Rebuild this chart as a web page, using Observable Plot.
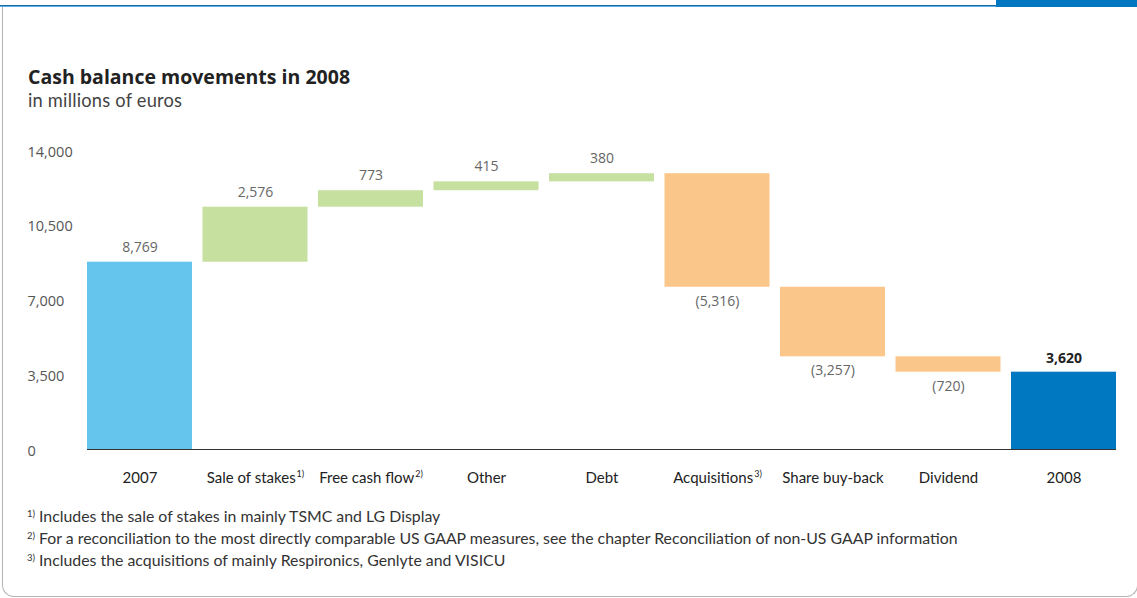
<!DOCTYPE html>
<html><head><meta charset="utf-8">
<script src="https://cdn.jsdelivr.net/npm/d3@7"></script>
<script src="https://cdn.jsdelivr.net/npm/@observablehq/plot@0.6"></script>
<style>
body{margin:0;background:#fff;}
#page{position:relative;width:1137px;height:598px;overflow:hidden;font-family:Lato,"Open Sans",sans-serif;background:#fff;}
.topline{position:absolute;left:0;top:5px;width:997px;height:1px;background:#1c6aa8;box-shadow:0 1px 0 #5aaee3;}
.topblock{position:absolute;left:996px;top:0;width:141px;height:7px;background:#0077c0;}
.frame{position:absolute;left:2px;top:7px;width:1134px;height:589px;border:1px solid #b4b4b4;border-top:none;border-radius:0 0 12px 12px;}
.title{position:absolute;left:28px;top:67px;font-family:"Open Sans",sans-serif;font-size:19.5px;line-height:20px;font-weight:700;color:#222;white-space:nowrap;}
.subtitle{position:absolute;left:28px;top:90px;font-size:18.3px;line-height:20px;font-weight:400;color:#444;white-space:nowrap;letter-spacing:0.2px;}
#chart{position:absolute;left:0;top:140px;}
.notes{position:absolute;left:27px;top:505px;font-size:15.85px;line-height:22px;color:#333;white-space:nowrap;}
.notes sup{font-size:9.5px;vertical-align:5px;margin-right:4px;line-height:0;}
</style></head><body>
<div id="page">
  <div class="topline"></div>
  <div class="topblock"></div>
  <div class="frame"></div>
  <div class="title">Cash balance movements in 2008</div>
  <div class="subtitle">in millions of euros</div>
  <div id="chart"></div>
  <div class="notes">
    <div><sup>1)</sup>Includes the sale of stakes in mainly TSMC and LG Display</div>
    <div><sup>2)</sup>For a reconciliation to the most directly comparable US GAAP measures, see the chapter Reconciliation of non-US GAAP information</div>
    <div><sup>3)</sup>Includes the acquisitions of mainly Respironics, Genlyte and VISICU</div>
  </div>
</div>
<script>
const categories = ["2007", "Sale of stakes", "Free cash flow", "Other", "Debt", "Acquisitions", "Share buy-back", "Dividend", "2008"];
const notes = ["", "1)", "2)", "", "", "3)", "", "", ""];
const values = [8769, 2576, 773, 415, 380, -5316, -3257, -720, 3620];
const kinds = ["start", "up", "up", "up", "up", "down", "down", "down", "end"];
const yTicks = [0, 3500, 7000, 10500, 14000];
const kindDomain = ["start", "up", "down", "end"];
const kindColors = ["#66c5ec", "#c6e09f", "#fbc68a", "#0078c1"];

let running = 0;
const rows = categories.map((c, i) => {
  const v = values[i], k = kinds[i];
  let y1, y2;
  if (k === "start" || k === "end") { y1 = 0; y2 = v; running = v; }
  else { y1 = running; y2 = running + v; running += v; }
  return {cat: c, v, kind: k, y1, y2, top: Math.max(y1, y2), bottom: Math.min(y1, y2),
          label: v < 0 ? "(" + d3.format(",")(-v) + ")" : d3.format(",")(v)};
});
const noteOf = new Map(categories.map((c, i) => [c, notes[i]]));

const svg = Plot.plot({
  width: 1137,
  height: 350,
  marginTop: 10,
  marginBottom: 41,
  marginLeft: 87,
  marginRight: 21,
  style: {fontFamily: "Lato, 'Open Sans', sans-serif", color: "#222", background: "transparent", overflow: "visible"},
  x: {domain: categories, paddingInner: 0.091, paddingOuter: 0, round: false, axis: null},
  y: {domain: [0, 14000], axis: null},
  color: {domain: kindDomain, range: kindColors},
  marks: [
    Plot.barY(rows, {x: "cat", y1: "y1", y2: "y2", fill: "kind"}),
    Plot.ruleY([0], {stroke: "#333", strokeWidth: 1}),
    Plot.axisY({ticks: yTicks, tickSize: 0, tickPadding: 0, textAnchor: "start", dx: -60, dy: 1.5, label: null,
      tickFormat: d3.format(","), fontSize: 14.5, fontFamily: "'Open Sans', sans-serif", fill: "#555"}),
    Plot.axisX({tickSize: 0, tickPadding: 23, fontSize: 15, fill: "#222", label: null,
      tickFormat: d => d + (noteOf.get(d) ? "|" + noteOf.get(d) : "")}),
    Plot.text(rows.filter(d => d.kind !== "end" && d.v >= 0), {x: "cat", y: "top", text: "label", dy: -15,
      fontSize: 14, fontFamily: "'Open Sans', sans-serif", fill: "#666"}),
    Plot.text(rows.filter(d => d.v < 0), {x: "cat", y: "bottom", text: "label", dy: 14,
      fontSize: 14, fontFamily: "'Open Sans', sans-serif", fill: "#666"}),
    Plot.text(rows.filter(d => d.kind === "end"), {x: "cat", y: "top", text: "label", dy: -14,
      fontSize: 14, fontWeight: 700, fontFamily: "'Open Sans', sans-serif", fill: "#222"})
  ]
});

svg.querySelectorAll("text").forEach(t => {
  const s = t.textContent;
  const m = s.match(/^(.*)\|(\d\))$/);
  if (m) {
    t.textContent = m[1];
    const ts = document.createElementNS("http://www.w3.org/2000/svg", "tspan");
    ts.setAttribute("font-size", "9");
    ts.setAttribute("dy", "-6");
    ts.setAttribute("dx", "1");
    ts.textContent = m[2];
    t.appendChild(ts);
  }
});
document.getElementById("chart").appendChild(svg);
</script>
</body></html>
